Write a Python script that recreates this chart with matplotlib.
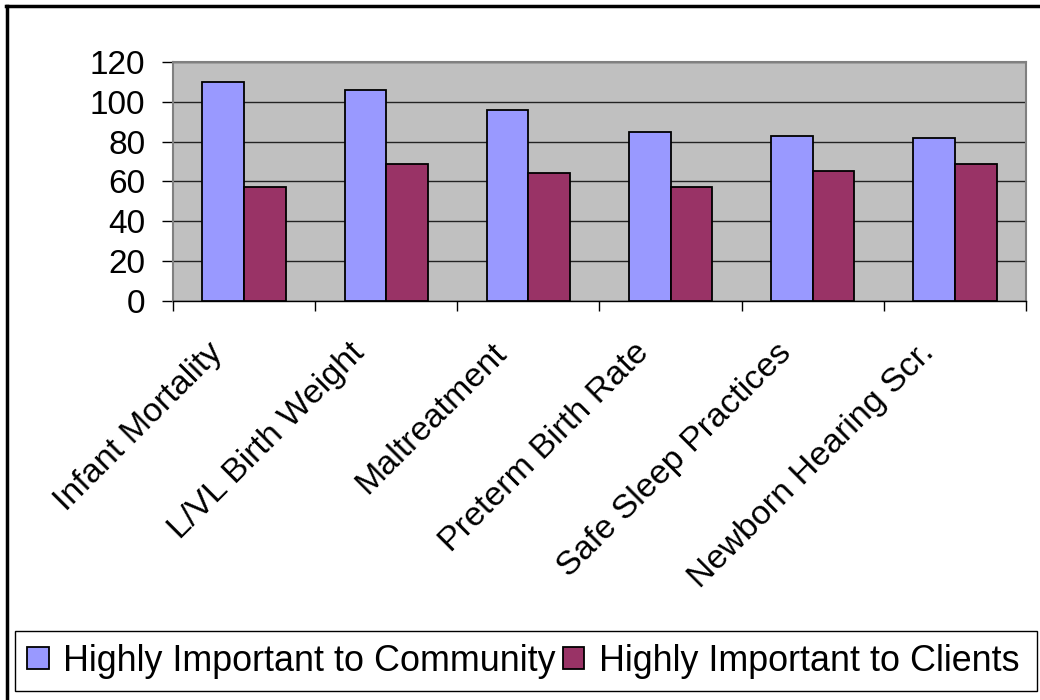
import numpy as np
import matplotlib
matplotlib.use("Agg")
import matplotlib.pyplot as plt
import matplotlib.transforms as mtransforms
from matplotlib.patches import Rectangle, Patch
from matplotlib.lines import Line2D

plt.rcParams["font.family"] = ["Liberation Sans", "DejaVu Sans"]

# data
categories = ["Infant Mortality", "L/VL Birth Weight", "Maltreatment",
              "Preterm Birth Rate", "Safe Sleep Practices", "Newborn Hearing Scr."]
community = [110, 106, 96, 85, 83, 82]
clients = [57, 69, 64, 57, 65, 69]
series_names = ["Highly Important to Community", "Highly Important to Clients"]
yticks = [0, 20, 40, 60, 80, 100, 120]

BLUE = "#9999FF"
PLUM = "#993366"
GRAY_BG = "#C0C0C0"

fig = plt.figure(figsize=(10.4, 7), dpi=100)
ax = fig.add_axes([0.1663, 0.5696, 0.8202, 0.3423])
ax.set_facecolor(GRAY_BG)

x = np.arange(len(categories))
w = 0.293
ax.bar(x - w / 2, community, w, color=BLUE, edgecolor="black", linewidth=1.3, zorder=3)
ax.bar(x + w / 2, clients, w, color=PLUM, edgecolor="black", linewidth=1.3, zorder=3)

ax.set_xlim(-0.5, len(categories) - 0.5)
ax.set_ylim(0, 120)
ax.set_yticks(yticks)
ax.set_yticklabels([str(v) for v in yticks], fontsize=24)
ax.yaxis.grid(True, color="#222222", linewidth=1.0, zorder=1)
ax.set_axisbelow(True)

# category labels: slanted text hung below the axis, a bit left of each group centre
ax.set_xticks(x)
ax.set_xticklabels([])
label_tf = ax.get_xaxis_transform() + mtransforms.ScaledTranslation(
    -0.37, -0.36, fig.dpi_scale_trans)
for xi, name in zip(x, categories):
    ax.text(xi, 0, name, transform=label_tf, rotation=45, ha="right", va="top",
            rotation_mode="anchor", fontsize=24.5)
ax.set_xticks(np.arange(-0.5, len(categories)), minor=True)
ax.tick_params(axis="x", which="major", length=0)
ax.tick_params(axis="x", which="minor", length=7.5, width=1, color="black")
ax.tick_params(axis="y", length=8, width=1, pad=12, color="black")

for side in ["top", "right", "left"]:
    ax.spines[side].set_color("#808080")
    ax.spines[side].set_linewidth(1.5)
ax.spines["bottom"].set_color("black")
ax.spines["bottom"].set_linewidth(1.0)

# legend box at the bottom
fig.patches.append(Rectangle((0.0144, 0.0129), 0.9827, 0.0857, transform=fig.transFigure,
                             facecolor="white", edgecolor="black", linewidth=1.0))
handles = [Patch(facecolor=BLUE, edgecolor="black", linewidth=1.3),
           Patch(facecolor=PLUM, edgecolor="black", linewidth=1.3)]
fig.legend(handles, series_names, loc="center", bbox_to_anchor=(0.503, 0.0557),
           ncol=2, frameon=False, fontsize=25.8, handlelength=0.6, handleheight=0.6,
           handletextpad=0.4, columnspacing=0.2, borderaxespad=0)

# outer frame (only left and top edges fall inside the image)
fig.lines.append(Line2D([0.0067, 0.0067], [0, 0.9914], transform=fig.transFigure,
                        color="black", linewidth=2.5))
fig.lines.append(Line2D([0.0055, 1], [0.9914, 0.9914], transform=fig.transFigure,
                        color="black", linewidth=2.5))

fig.savefig("out.png", dpi=100)
